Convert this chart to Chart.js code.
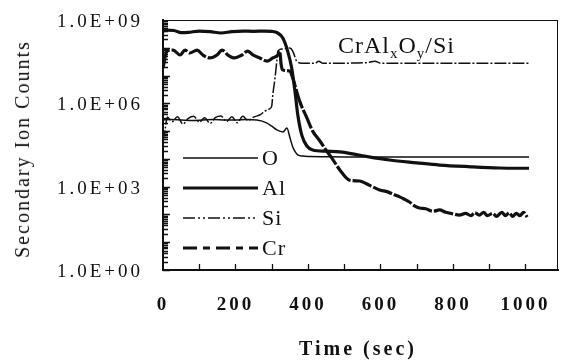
<!DOCTYPE html>
<html><head><meta charset="utf-8">
<script src="https://cdn.jsdelivr.net/npm/chart.js@4.4.0/dist/chart.umd.min.js"></script>
<style>
html,body{margin:0;padding:0;background:#fff;}
#wrap{position:relative;width:562px;height:360px;overflow:hidden;}
canvas{position:absolute;left:0;top:0;}
.t{position:absolute;font-family:"Liberation Serif","Times New Roman",serif;color:#111;white-space:nowrap;line-height:1;}
#xt{font-weight:bold;font-size:20px;letter-spacing:3px;left:358px;top:348px;transform:translate(-50%,-50%);}
#yt{font-size:20px;letter-spacing:2px;left:22px;top:149px;transform:translate(-50%,-50%) rotate(-90deg);}
#ct{font-size:24px;left:338px;top:33px;letter-spacing:1px;}
#ct sub{font-size:15px;vertical-align:-5px;line-height:0;}
.yl{font-size:19px;letter-spacing:3px;transform:translateY(-50%);}
</style></head>
<body><div id="wrap"><canvas id="c" width="562" height="360"></canvas>
<div class="t" id="yt">Secondary Ion Counts</div>
<div class="t" id="xt">Time (sec)</div>
<div class="t" id="ct">CrAl<sub>x</sub>O<sub>y</sub>/Si</div>
</div>
<script>
// ---- data ----
const seriesLabels = ['O', 'Al', 'Si', 'Cr'];

const oTime = [0, 20, 50, 80, 110, 140, 170, 200, 230, 259, 287, 300, 314, 331, 342, 350, 358, 365, 372, 386, 405, 450, 500, 600, 700, 800, 900, 1010];
const oVal  = [2.5e5, 2.6e5, 2.5e5, 2.4e5, 2.5e5, 2.6e5, 2.5e5, 2.5e5, 2.6e5, 2.5e5, 1.95e5, 1.5e5, 1.1e5, 9.3e4, 1.3e5, 6e4, 2.7e4, 1.8e4, 1.4e4, 1.26e4, 1.22e4, 1.2e4, 1.18e4, 1.17e4, 1.17e4, 1.17e4, 1.17e4, 1.17e4];

const alTime = [0, 10, 30, 50, 70, 100, 130, 160, 190, 220, 250, 280, 300, 315, 331, 344, 355, 364, 372, 383, 397, 413, 450, 488, 550, 625, 700, 763, 850, 928, 970, 1010];
const alVal  = [4.0e8, 4.3e8, 4.2e8, 3.5e8, 3.6e8, 4.0e8, 3.8e8, 3.4e8, 3.8e8, 4.0e8, 3.9e8, 4.0e8, 3.9e8, 3.5e8, 2.2e8, 7.6e7, 1.9e7, 2.8e6, 3.8e5, 7.2e4, 2.9e4, 2.1e4, 1.9e4, 1.8e4, 1.3e4, 9.1e3, 7.2e3, 6.0e3, 5.2e3, 4.7e3, 4.6e3, 4.6e3];

const siTime = [0, 6, 12, 25, 40, 55, 70, 85, 100, 115, 130, 145, 160, 175, 190, 205, 220, 235, 250, 267, 281, 295, 300, 303, 309, 314, 317, 328, 350, 358, 369, 383, 420, 430, 440, 500, 560, 585, 600, 700, 800, 900, 1010];
const siVal  = [4e4, 1.2e5, 3.2e5, 2.2e5, 3.3e5, 1.8e5, 2.9e5, 3.4e5, 2.1e5, 3.0e5, 1.9e5, 3.1e5, 3.5e5, 2.2e5, 3.3e5, 2.0e5, 3.4e5, 2.4e5, 3.2e5, 3.8e5, 5.2e5, 6.5e5, 7.9e5, 2e6, 8e6, 3.3e7, 7.6e7, 9e7, 9.8e7, 7.6e7, 3.3e7, 2.8e7, 2.8e7, 3.3e7, 2.8e7, 2.8e7, 2.9e7, 3.3e7, 2.8e7, 2.8e7, 2.8e7, 2.8e7, 2.8e7];

const crTime = [0, 11, 28, 47, 61, 74, 94, 110, 129, 149, 163, 179, 198, 218, 234, 248, 267, 287, 303, 317, 322, 326, 330, 350, 358, 377, 397, 413, 433, 452, 466, 488, 515, 543, 560, 579, 598, 620, 640, 653, 665, 680, 695, 708, 725, 745, 763, 780, 800, 818, 835, 850, 860, 873, 885, 895, 910, 920, 935, 945, 955, 965, 975, 985, 995, 1005];
const crVal  = [1.9e7, 7.6e7, 8.3e7, 5.5e7, 8.3e7, 6.5e7, 8.3e7, 5.5e7, 4.3e7, 5.5e7, 8.3e7, 5.5e7, 4.3e7, 5.5e7, 7.6e7, 5.5e7, 4.3e7, 3.3e7, 4.3e7, 5.5e7, 7.6e7, 2.5e7, 1.6e7, 1.45e7, 8.1e6, 1.2e6, 3e5, 1e5, 4.4e4, 1.9e4, 1.07e4, 4e3, 1.7e3, 1.6e3, 1.3e3, 9.8e2, 7.6e2, 6.5e2, 5e2, 4.3e2, 3.6e2, 2.8e2, 2.0e2, 1.7e2, 1.6e2, 1.3e2, 1.45e2, 1.2e2, 1.05e2, 9.5e1, 1.1e2, 9e1, 1.15e2, 9.5e1, 1.2e2, 9e1, 1.1e2, 8.5e1, 1.2e2, 9e1, 1.15e2, 8.5e1, 1.1e2, 9e1, 1.2e2, 8e1];

const xTickValues = [0, 200, 400, 600, 800, 1000];
const yTickValues = [1, 1e3, 1e6, 1e9];
const yTickLabels = ['1.0E+00', '1.0E+03', '1.0E+06', '1.0E+09'];

// ---- build chart ----
const zip = (t, v) => t.map((x, i) => ({x: x, y: v[i]}));

const datasets = [
  {label: seriesLabels[0], data: zip(oTime, oVal), borderWidth: 1.5, borderDash: [], legendDash: []},
  {label: seriesLabels[1], data: zip(alTime, alVal), borderWidth: 3.2, borderDash: [], legendDash: []},
  {label: seriesLabels[2], data: zip(siTime, siVal), borderWidth: 1.5, borderDash: [12, 2, 2, 2], legendDash: [12, 3, 2, 3, 2, 3]},
  {label: seriesLabels[3], data: zip(crTime, crVal), borderWidth: 3.2, borderDash: [20, 2], legendDash: [14, 6, 7, 6]}
].map(d => Object.assign(d, {borderColor: '#111', backgroundColor: '#111', pointRadius: 0, fill: false, cubicInterpolationMode: 'monotone'}));

const serif = '"Liberation Serif", "Times New Roman", serif';

const decor = {
  id: 'decor',
  beforeUpdate(chart) {
    chart.ctx.letterSpacing = '3px';
  },
  beforeDraw(chart) {
    chart.ctx.letterSpacing = '3px';
  },
  afterDraw(chart) {
    const ctx = chart.ctx, ca = chart.chartArea;
    const xs = chart.scales.x, ys = chart.scales.y;
    ctx.save();
    ctx.letterSpacing = '0px';
    ctx.strokeStyle = '#111';
    // frame
    ctx.lineWidth = 1;
    ctx.strokeRect(ca.left + 0.5, ca.top + 0.5, ca.right - ca.left - 1, ca.bottom - ca.top);
    // minor ticks on y (log)
    ctx.lineWidth = 1.3;
    ctx.beginPath();
    for (let k = 0; k < 9; k++) {
      for (let m = 1; m < 10; m++) {
        const py = Math.round(ys.getPixelForValue(m * Math.pow(10, k))) + 0.5;
        const len = (m === 1) ? 7 : 5;
        ctx.moveTo(ca.left, py); ctx.lineTo(ca.left + len, py);
      }
    }
    // x ticks every 100
    for (let v = 100; v <= 1000; v += 100) {
      const px = Math.round(xs.getPixelForValue(v)) + 0.5;
      ctx.moveTo(px, ca.bottom); ctx.lineTo(px, ca.bottom - 6);
    }
    ctx.stroke();
    // legend inside plot
    const x0 = ca.left + 20, x1 = ca.left + 95, y0 = ca.top + 138, dy = 30;
    ctx.font = '22px ' + serif;
    ctx.letterSpacing = '1px';
    ctx.fillStyle = '#111';
    ctx.textBaseline = 'middle';
    ctx.textAlign = 'left';
    chart.data.datasets.forEach((d, i) => {
      const y = y0 + i * dy;
      ctx.beginPath();
      ctx.lineWidth = d.borderWidth;
      ctx.setLineDash(d.legendDash);
      ctx.moveTo(x0, y); ctx.lineTo(x1, y);
      ctx.stroke();
      ctx.setLineDash([]);
      ctx.fillText(d.label, x1 + 4, y + 1);
    });
    ctx.restore();
    ctx.letterSpacing = '3px';
    // y tick labels as text placed by the y scale
    const wrap = document.getElementById('wrap');
    yTickValues.forEach((v, i) => {
      let el = document.getElementById('yl' + i);
      if (!el) {
        el = document.createElement('div');
        el.id = 'yl' + i;
        el.className = 't yl';
        el.textContent = yTickLabels[i];
        wrap.appendChild(el);
      }
      el.style.right = (chart.width - ca.left + 20) + 'px';
      el.style.top = ys.getPixelForValue(v) + 'px';
    });
  }
};

new Chart(document.getElementById('c'), {
  type: 'line',
  data: {datasets: datasets},
  options: {
    responsive: false,
    animation: false,
    layout: {padding: {left: 0, right: 4, top: 20, bottom: 0}},
    plugins: {legend: {display: false}, tooltip: {enabled: false}},
    scales: {
      x: {
        type: 'linear', min: 0, max: 1090,
        afterBuildTicks: s => { s.ticks = xTickValues.map(v => ({value: v})); },
        afterFit: s => { s.height = 90; s.paddingLeft = 0; s.paddingRight = 0; },
        grid: {display: false, drawTicks: false},
        border: {display: true, color: '#111', width: 2},
        ticks: {color: '#111', padding: 24, maxRotation: 0, autoSkip: false, font: {family: serif, size: 19, weight: 'bold'}, callback: v => String(v)}
      },
      y: {
        type: 'logarithmic', min: 1, max: 1e9,
        afterBuildTicks: s => { s.ticks = yTickValues.map(v => ({value: v})); },
        afterFit: s => { s.width = 163; s.paddingTop = 0; s.paddingBottom = 0; },
        grid: {display: false, drawTicks: false},
        border: {display: true, color: '#111', width: 2},
        ticks: {display: false}
      }
    }
  },
  plugins: [decor]
});
</script>
</body></html>
